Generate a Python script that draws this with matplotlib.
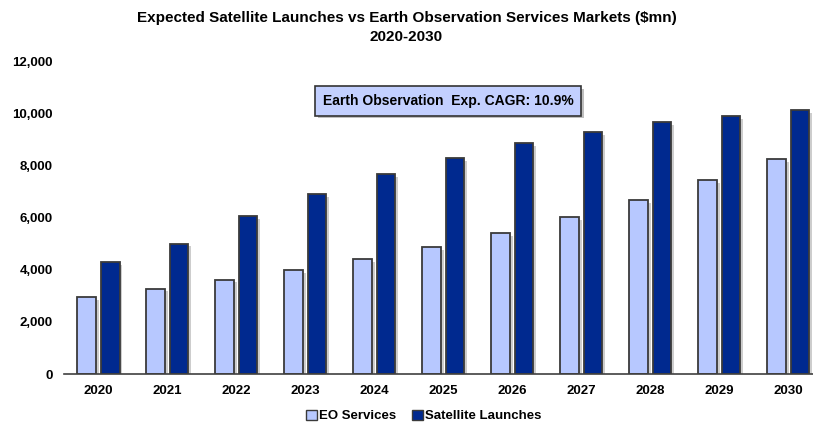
import numpy as np
import matplotlib.pyplot as plt
import matplotlib.patheffects as pe
from matplotlib.patches import Patch

years = ['2020', '2021', '2022', '2023', '2024', '2025',
         '2026', '2027', '2028', '2029', '2030']
eo_services = [2950, 3270, 3620, 3980, 4410, 4870, 5410, 6020, 6670, 7430, 8240]
sat_launches = [4290, 5000, 6050, 6910, 7670, 8290, 8840, 9280, 9650, 9900, 10110]

eo_color = '#B7C8FF'
sat_color = '#00298F'
edge = '#3A3A3A'

plt.rcParams['font.family'] = ['Liberation Sans', 'DejaVu Sans']

fig = plt.figure(figsize=(8.13, 4.23), dpi=100)
ax = fig.add_axes([64 / 813, 49 / 423, 749 / 813, 313 / 423])

x = np.arange(len(years))
w = 0.27
shadow = [pe.SimplePatchShadow(offset=(2, -2), shadow_rgbFace='#909090', alpha=0.45), pe.Normal()]

b1 = ax.bar(x - 0.17, eo_services, w, color=eo_color, edgecolor=edge, linewidth=1.3)
b2 = ax.bar(x + 0.17, sat_launches, w, color=sat_color, edgecolor=edge, linewidth=1.3)
for p in list(b1) + list(b2):
    p.set_path_effects(shadow)

ax.set_xlim(-0.5, 10.36)
ax.set_ylim(0, 12000)
ax.set_yticks(range(0, 12001, 2000))
ax.set_yticklabels([f'{v:,}' for v in range(0, 12001, 2000)])
ax.set_xticks(x)
ax.set_xticklabels(years)
ax.tick_params(axis='both', length=0, labelsize=9.5)
ax.tick_params(axis='y', pad=8)
ax.tick_params(axis='x', pad=8)
for lbl in ax.get_xticklabels() + ax.get_yticklabels():
    lbl.set_fontweight('bold')

for s in ['top', 'right', 'left']:
    ax.spines[s].set_visible(False)
ax.spines['bottom'].set_color('#404040')
ax.spines['bottom'].set_linewidth(1.2)

fig.text(0.5, 1 - 18 / 423, 'Expected Satellite Launches vs Earth Observation Services Markets ($mn)',
         ha='center', va='center', fontsize=11, fontweight='bold')
fig.text(0.5, 1 - 37 / 423, '2020-2030', ha='center', va='center', fontsize=11,
         fontweight='bold')

cagr = fig.text(448 / 813, 1 - 101 / 423, 'Earth Observation  Exp. CAGR: 10.9%',
                ha='center', va='center', fontsize=10, fontweight='bold',
                bbox=dict(boxstyle='square,pad=0.55', facecolor='#C3D0FF',
                          edgecolor='#333333', linewidth=1.2))
cagr.get_bbox_patch().set_path_effects(
    [pe.SimplePatchShadow(offset=(2, -2), shadow_rgbFace='#808080', alpha=0.5), pe.Normal()])

handles = [Patch(facecolor=eo_color, edgecolor=edge, linewidth=1, label='EO Services'),
           Patch(facecolor=sat_color, edgecolor=edge, linewidth=1, label='Satellite Launches')]
fig.legend(handles=handles, loc='center', bbox_to_anchor=(424 / 813, 1 - 416 / 423),
           ncol=2, frameon=False, handlelength=0.8, handleheight=0.8,
           handletextpad=0.2, columnspacing=1.2, prop={'weight': 'bold', 'size': 9.5})

plt.savefig('out.png', dpi=100)
